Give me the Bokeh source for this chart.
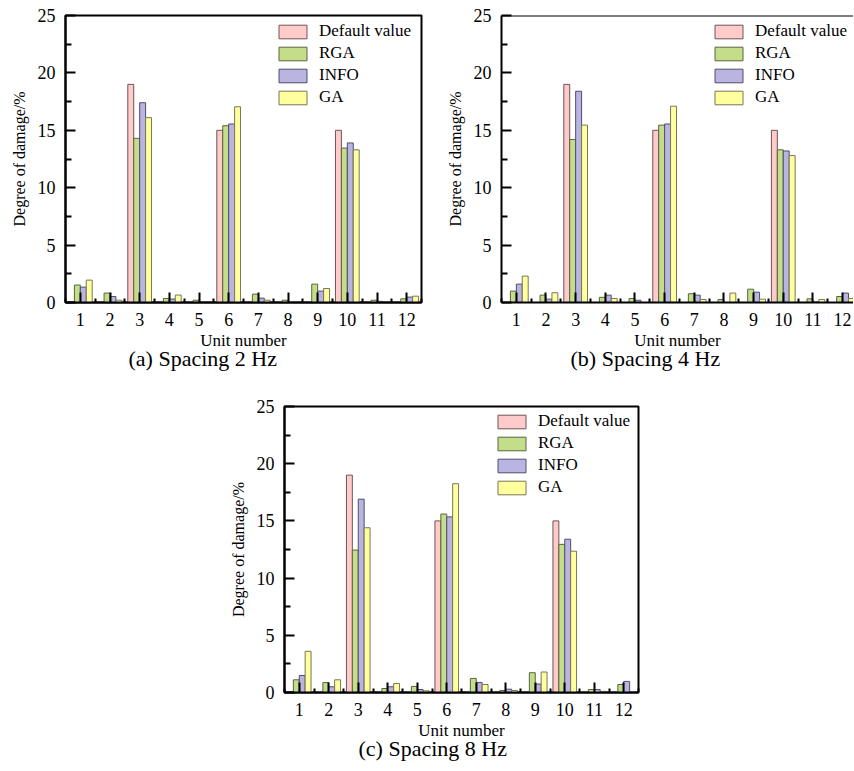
from bokeh.plotting import figure
from bokeh.models import FixedTicker, ColumnDataSource, Range1d, Span, Title
from bokeh.layouts import column, row
from bokeh.transform import dodge
from bokeh.embed import file_html
from bokeh.resources import INLINE

# ---------------- data ----------------
units = [1, 2, 3, 4, 5, 6, 7, 8, 9, 10, 11, 12]
series = ["Default value", "RGA", "INFO", "GA"]
y_ticks = [0, 5, 10, 15, 20, 25]

# (a) Spacing 2 Hz
default_2hz = [0, 0, 19.0, 0, 0, 15.0, 0, 0, 0, 15.0, 0, 0]
rga_2hz = [1.52, 0.82, 14.3, 0.35, 0.2, 15.4, 0.73, 0.2, 1.6, 13.45, 0.2, 0.32]
info_2hz = [1.34, 0.52, 17.4, 0.3, 0, 15.55, 0.38, 0, 0.99, 13.9, 0.1, 0.47]
ga_2hz = [1.95, 0.2, 16.1, 0.65, 0, 17.05, 0.2, 0, 1.22, 13.3, 0, 0.55]

# (b) Spacing 4 Hz
default_4hz = [0, 0, 19.0, 0, 0, 15.0, 0, 0, 0, 15.0, 0, 0]
rga_4hz = [0.99, 0.64, 14.2, 0.45, 0.35, 15.45, 0.76, 0.26, 1.16, 13.3, 0.32, 0.52]
info_4hz = [1.6, 0.29, 18.4, 0.64, 0.2, 15.55, 0.64, 0, 0.9, 13.2, 0.05, 0.82]
ga_4hz = [2.3, 0.85, 15.45, 0.35, 0, 17.1, 0.26, 0.82, 0.29, 12.8, 0.26, 0.35]

# (c) Spacing 8 Hz
default_8hz = [0, 0, 19.0, 0, 0, 15.0, 0, 0, 0, 15.0, 0, 0]
rga_8hz = [1.11, 0.87, 12.45, 0.35, 0.53, 15.6, 1.23, 0.18, 1.73, 12.95, 0.26, 0.7]
info_8hz = [1.49, 0.5, 16.9, 0.5, 0.26, 15.35, 0.88, 0.29, 0.74, 13.4, 0.26, 0.97]
ga_8hz = [3.6, 1.11, 14.4, 0.79, 0.15, 18.25, 0.7, 0.18, 1.79, 12.35, 0.1, 0]

captions = ["(a) Spacing 2 Hz", "(b) Spacing 4 Hz", "(c) Spacing 8 Hz"]

# ---------------- style ----------------
fills = ["#FFCACA", "#C4DD88", "#BAB5E0", "#FFFF9E"]
edges = ["#6E5555", "#5A6440", "#4E4E70", "#77775A"]
offsets = [-0.3, -0.1, 0.1, 0.3]
SERIF = "Liberation Serif"


def make_panel(width, height, mb_left, mb_right, mb_top, mb_bottom,
               x_end, vals, cap, cap_dx, boxed=True):
    p = figure(width=width, height=height, output_backend="svg",
               toolbar_location=None, tools="",
               x_range=Range1d(0.5, x_end), y_range=Range1d(0, 25),
               min_border_left=mb_left, min_border_right=mb_right,
               min_border_top=mb_top, min_border_bottom=mb_bottom)
    p.background_fill_color = "white"
    p.border_fill_color = "white"
    p.xgrid.visible = False
    p.ygrid.visible = False
    if boxed:
        p.outline_line_color = "black"
        p.outline_line_width = 2
    else:
        p.outline_line_color = None
        p.add_layout(Span(location=25, dimension="width",
                          line_color="black", line_width=2))

    src = ColumnDataSource(dict(unit=units, s0=vals[0], s1=vals[1],
                                s2=vals[2], s3=vals[3]))
    for i, name in enumerate(series):
        p.vbar(x=dodge("unit", offsets[i], range=p.x_range), top="s%d" % i,
               width=0.2, source=src, fill_color=fills[i],
               line_color=edges[i], line_width=1, legend_label=name)

    xa = p.xaxis[0]
    xa.ticker = FixedTicker(ticks=units,
                            minor_ticks=[u - 0.5 for u in units] + [12.5])
    xa.axis_label = "Unit number"
    ya = p.yaxis[0]
    ya.ticker = FixedTicker(ticks=y_ticks,
                            minor_ticks=[2.5, 7.5, 12.5, 17.5, 22.5])
    ya.axis_label = "Degree of damage/%"
    for ax in (xa, ya):
        ax.axis_line_color = "black"
        ax.axis_line_width = 2
        ax.major_tick_in = 10
        ax.major_tick_out = 0
        ax.major_tick_line_width = 2
        ax.minor_tick_out = 0
        ax.minor_tick_line_width = 2
        ax.major_label_text_font = SERIF
        ax.major_label_text_font_size = "18px"
        ax.major_label_text_color = "black"
        ax.axis_label_text_font = SERIF
        ax.axis_label_text_font_style = "normal"
        ax.axis_label_text_color = "black"
    xa.minor_tick_in = 4
    ya.minor_tick_in = 6
    xa.major_label_standoff = 10
    xa.axis_label_standoff = 2
    xa.axis_label_text_font_size = "17px"
    ya.major_label_standoff = 10
    ya.axis_label_standoff = 7
    ya.axis_label_text_font_size = "16px"

    lg = p.legend[0]
    lg.location = (210, 195)
    lg.padding = 0
    lg.margin = 0
    lg.spacing = 2
    lg.glyph_width = 35
    lg.glyph_height = 17
    lg.label_height = 17
    lg.label_standoff = 9
    lg.label_text_font = SERIF
    lg.label_text_font_size = "17px"
    lg.label_text_color = "black"
    lg.border_line_color = None
    lg.background_fill_alpha = 0

    # caption under the x-axis label
    p.add_layout(Title(text=cap, align="left", offset=cap_dx, standoff=-17,
                       text_font=SERIF, text_font_size="22px",
                       text_font_style="normal", text_color="black"), "below")
    return p


pa = make_panel(440, 372, 65, 19, 15, 70, 12.5,
                [default_2hz, rga_2hz, info_2hz, ga_2hz], captions[0], 63)
pb = make_panel(413, 372, 61, 0, 15, 70, 0.5 + 352 / 29.66,
                [default_4hz, rga_4hz, info_4hz, ga_4hz], captions[1], 69,
                boxed=False)
pc = make_panel(853, 398, 284, 215, 34, 78, 12.5,
                [default_8hz, rga_8hz, info_8hz, ga_8hz], captions[2], 74)

layout = column(row(pa, pb), pc)
open("out.html", "w").write(file_html(layout, INLINE))
